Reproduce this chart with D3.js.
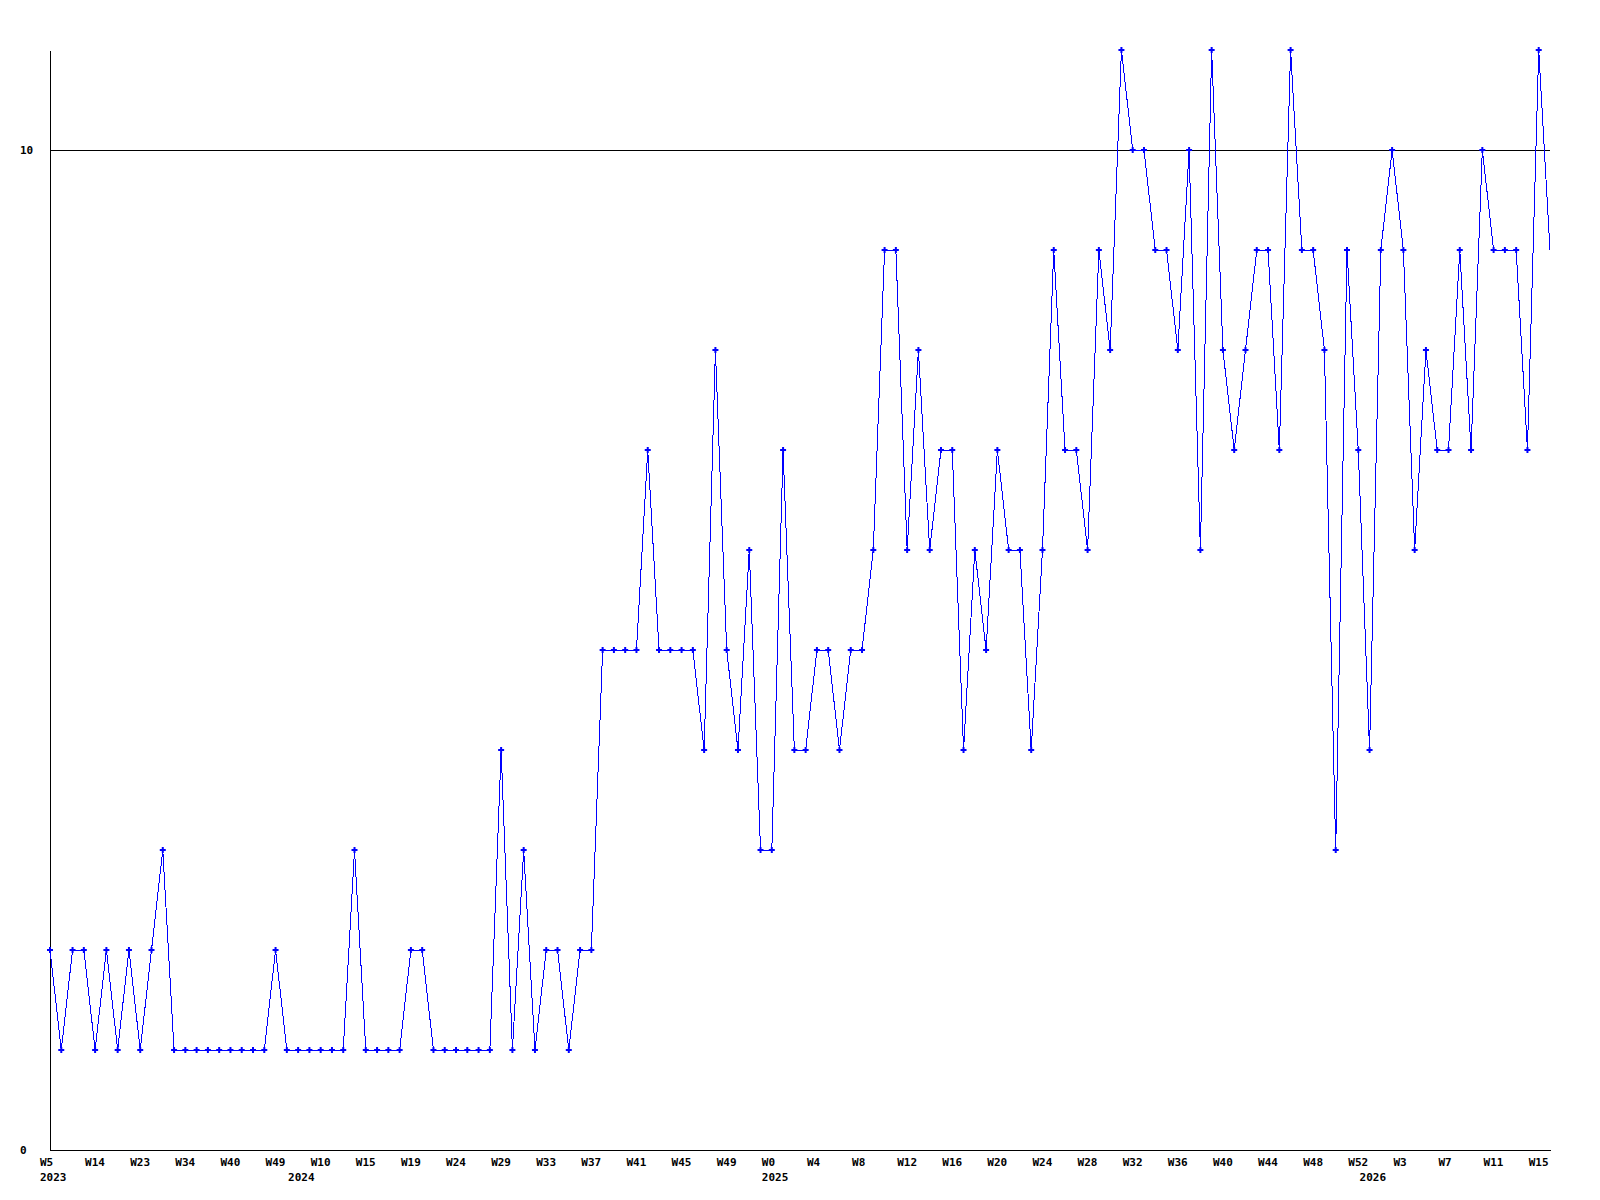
<!DOCTYPE html>
<html>
<head>
<meta charset="utf-8">
<script src="https://cdn.jsdelivr.net/npm/d3@7"></script>
<style>
  body { margin: 0; background: #fff; }
  #root { width: 1600px; height: 1200px; }
</style>
</head>
<body>
<div id="root"></div>
<script>

// DATA - one value per week
const values = [
    2, 1, 2, 2, 1, 2, 1, 2, 1, 2,
    3, 1, 1, 1, 1, 1, 1, 1, 1, 1,
    2, 1, 1, 1, 1, 1, 1, 3, 1, 1,
    1, 1, 2, 2, 1, 1, 1, 1, 1, 1,
    4, 1, 3, 1, 2, 2, 1, 2, 2, 5,
    5, 5, 5, 7, 5, 5, 5, 5, 4, 8,
    5, 4, 6, 3, 3, 7, 4, 4, 5, 5,
    4, 5, 5, 6, 9, 9, 6, 8, 6, 7,
    7, 4, 6, 5, 7, 6, 6, 4, 6, 9,
    7, 7, 6, 9, 8, 11, 10, 10, 9, 9,
    8, 10, 6, 11, 8, 7, 8, 9, 9, 7,
    11, 9, 9, 8, 3, 9, 7, 4, 9, 10,
    9, 6, 8, 7, 7, 9, 7, 10, 9, 9,
    9, 7, 11, 9
];

// week tick labels, one every 4th point
const weekLabels = ['W5', 'W14', 'W23', 'W34', 'W40', 'W49', 'W10', 'W15', 'W19', 'W24',
    'W29', 'W33', 'W37', 'W41', 'W45', 'W49', 'W0', 'W4', 'W8', 'W12',
    'W16', 'W20', 'W24', 'W28', 'W32', 'W36', 'W40', 'W44', 'W48', 'W52',
    'W3', 'W7', 'W11', 'W15'];
const weekTicks = weekLabels.map((d, i) => i * 4);

// year labels and the point where each year starts
const yearLabels = ['2023', '2024', '2025', '2026'];
const yearTicks = [0, 22, 64, 117];

const yTicks = [0, 10];

buildGraph();

// Build Graph
function buildGraph() {
    const w = 1600;
    const h = 1200;
    const padding = 50;
    const font = '"DejaVu Sans Mono", "Liberation Mono", monospace';

    const svg = d3.select('#root')
                    .append('svg')
                    .attr('width', w)
                    .attr('height', h)
                    .style('display', 'block');

    svg.append('rect')
        .attr('width', w)
        .attr('height', h)
        .attr('fill', '#fff');

    // -- scales
    const xScale = d3.scaleLinear()
                        .domain([0, values.length - 1])
                        .range([padding, w - padding]);
    const yScale = d3.scaleLinear()
                        .domain([0, 11])
                        .range([h - padding, padding]);

    // -- y axis, the 10 tick runs across the plot
    const yAxis = d3.axisLeft(yScale)
                    .tickValues(yTicks)
                    .tickFormat(d3.format('d'))
                    .tickSizeInner(-(w - padding * 2))
                    .tickSizeOuter(0);

    const gy = svg.append('g')
        .attr('transform', `translate(${padding},0)`)
        .call(yAxis);
    gy.selectAll('text')
        .attr('text-anchor', 'start')
        .attr('x', -30)
        .attr('dy', '0.36em');

    // -- x axis, week labels
    const xAxis = d3.axisBottom(xScale)
                    .tickValues(weekTicks)
                    .tickFormat((d, i) => weekLabels[i])
                    .tickSize(0)
                    .tickPadding(8);

    const gx = svg.append('g')
        .attr('transform', `translate(0,${h - padding})`)
        .call(xAxis);
    gx.selectAll('text')
        .attr('text-anchor', 'start')
        .attr('x', -10.5);

    // -- second row, years
    const yearAxis = d3.axisBottom(xScale)
                    .tickValues(yearTicks)
                    .tickFormat((d, i) => yearLabels[i])
                    .tickSize(0)
                    .tickPadding(23);

    const gYear = svg.append('g')
        .attr('transform', `translate(0,${h - padding})`)
        .call(yearAxis);
    gYear.select('.domain').remove();
    gYear.selectAll('text')
        .attr('text-anchor', 'start')
        .attr('x', -10.5);

    svg.selectAll('g text')
        .style('font-family', font)
        .style('font-size', '11px')
        .style('font-weight', 'bold')
        .attr('fill', '#000');
    svg.selectAll('.domain, .tick line')
        .attr('stroke', '#000')
        .attr('shape-rendering', 'crispEdges');

    // markers stop just short of the right edge (last one is hidden there)
    svg.append('clipPath')
        .attr('id', 'marker-clip')
        .append('rect')
        .attr('x', padding - 3)
        .attr('y', 0)
        .attr('width', w - padding * 2)
        .attr('height', h);

    const line = d3.line()
                    .x((d, i) => xScale(i))
                    .y(d => yScale(d));

    svg.append('path')
        .datum(values)
        .attr('d', line)
        .attr('fill', 'none')
        .attr('stroke', '#0000ff')
        .attr('stroke-width', 1)
        .attr('shape-rendering', 'crispEdges');

    // point markers
    const marker = d3.symbol().type(d3.symbolCross).size(20);
    svg.append('g')
        .attr('clip-path', 'url(#marker-clip)')
        .selectAll('.pt')
        .data(values)
        .enter()
        .append('path')
        .attr('class', 'pt')
        .attr('d', marker)
        .attr('transform', (d, i) => `translate(${xScale(i)},${yScale(d)})`)
        .attr('fill', '#0000ff');
}
</script>
</body>
</html>
